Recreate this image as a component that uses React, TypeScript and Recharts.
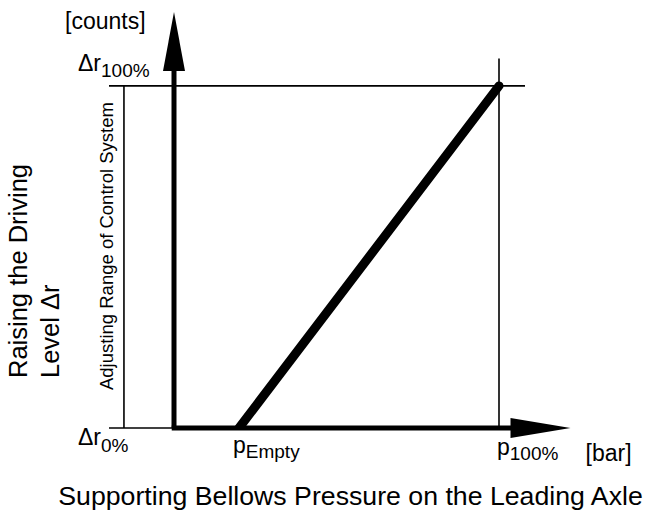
import { ComposedChart, Line, XAxis, YAxis, ReferenceLine, ReferenceDot } from 'recharts'

// characteristic: supporting bellows pressure (% of p100) -> raising of driving level (% of Δr100)
const pressure = [20, 100]
const level = [0, 100]

const xTickMain = ['p', 'p']
const xTickSub = ['Empty', '100%']
const yTickMain = ['Δr', 'Δr']
const yTickSub = ['0%', '100%']

const xUnit = '[bar]'
const yUnit = '[counts]'
const xTitle = 'Supporting Bellows Pressure on the Leading Axle'
const yTitle = ['Raising the Driving', 'Level Δr']
const rangeNote = 'Adjusting Range of Control System'

const xMin = -20
const xMax = 122
const yMax = 121.6
const rangeX = -15.4 // thin bracket line on the left
const overshoot = 108 // helper lines run a bit past 100%

const data = pressure.map((p, i) => ({ p, r: level[i] }))

const FONT = '"Liberation Sans", Arial, sans-serif'
const INK = '#000'

type DotProps = { cx?: number; cy?: number }

// text label placed relative to a data anchor
const note = (render: (x: number, y: number) => JSX.Element) => (p: DotProps) =>
  render(p.cx ?? 0, p.cy ?? 0)

const subLabel = (main: string, sub: string, dx: number, dy: number, subDy: number) =>
  note((x, y) => (
    <text x={x + dx} y={y + dy} fill={INK} fontFamily={FONT} fontSize={23}>
      <tspan>{main}</tspan>
      <tspan fontSize={19} dy={subDy}>{sub}</tspan>
    </text>
  ))

export default function App() {
  const thin = { stroke: INK, strokeWidth: 1.6, ifOverflow: 'visible' as const }
  const thick = { stroke: INK, strokeWidth: 5, ifOverflow: 'visible' as const }

  return (
    <div style={{ position: 'absolute', left: 0, top: 0, width: 645, height: 511, background: '#fff' }}>
      <ComposedChart width={645} height={511} data={data}
        margin={{ top: 12, right: 74.5, bottom: 83, left: 109 }}>
        <XAxis dataKey="p" type="number" domain={[xMin, xMax]} allowDataOverflow hide />
        <YAxis type="number" domain={[0, yMax]} allowDataOverflow hide />

        {/* helper lines */}
        <ReferenceLine segment={[{ x: xMin, y: 100 }, { x: overshoot, y: 100 }]} {...thin} />
        <ReferenceLine segment={[{ x: xMin, y: 0 }, { x: 0, y: 0 }]} {...thin} />
        <ReferenceLine segment={[{ x: rangeX, y: 0 }, { x: rangeX, y: 100 }]} {...thin} />
        <ReferenceLine segment={[{ x: 100, y: 0 }, { x: 100, y: overshoot }]} {...thin} />

        <Line dataKey="r" stroke={INK} strokeWidth={9} strokeLinecap="round" dot={false}
          isAnimationActive={false} />

        {/* axes with arrows */}
        <ReferenceLine segment={[{ x: 0, y: 0 }, { x: 0, y: 110 }]} {...thick} />
        <ReferenceLine segment={[{ x: -0.7, y: 0 }, { x: 110, y: 0 }]} {...thick} />
        <ReferenceDot x={0} y={yMax} ifOverflow="visible"
          shape={note((x, y) => <polygon points={`${x},${y} ${x - 11},${y + 59} ${x + 11},${y + 59}`} fill={INK} />)} />
        <ReferenceDot x={xMax} y={0} ifOverflow="visible"
          shape={note((x, y) => <polygon points={`${x},${y} ${x - 60},${y - 10} ${x - 60},${y + 10}`} fill={INK} />)} />

        {/* tick labels */}
        <ReferenceDot x={xMin} y={level[1]} ifOverflow="visible" shape={subLabel(yTickMain[1], yTickSub[1], -31, -15, 6)} />
        <ReferenceDot x={xMin} y={level[0]} ifOverflow="visible" shape={subLabel(yTickMain[0], yTickSub[0], -31, 17, 7)} />
        <ReferenceDot x={pressure[0]} y={0} ifOverflow="visible" shape={subLabel(xTickMain[0], xTickSub[0], -6, 25, 5)} />
        <ReferenceDot x={pressure[1]} y={0} ifOverflow="visible" shape={subLabel(xTickMain[1], xTickSub[1], -2, 27, 5)} />

        {/* units */}
        <ReferenceDot x={0} y={yMax} ifOverflow="visible"
          shape={note((x, y) => <text x={x - 109} y={y + 17} fill={INK} fontFamily={FONT} fontSize={23}>{yUnit}</text>)} />
        <ReferenceDot x={xMax} y={0} ifOverflow="visible"
          shape={note((x, y) => <text x={x + 15} y={y + 33} fill={INK} fontFamily={FONT} fontSize={23}>{xUnit}</text>)} />

        {/* titles */}
        <ReferenceDot x={0} y={0} ifOverflow="visible"
          shape={note((x, y) => (
            <g fill={INK} fontFamily={FONT}>
              <text x={x + 176.5} y={y + 77} textAnchor="middle" fontSize={26.7}>{xTitle}</text>
              {yTitle.map((t, i) => (
                <text key={t} x={x - 147 + i * 32} y={y - 50} fontSize={25.5}
                  transform={`rotate(-90, ${x - 147 + i * 32}, ${y - 50})`}>{t}</text>
              ))}
            </g>
          ))} />
        <ReferenceDot x={rangeX} y={0} ifOverflow="visible"
          shape={note((x, y) => (
            <text x={x - 11} y={y - 38} transform={`rotate(-90, ${x - 11}, ${y - 38})`}
              fill={INK} fontFamily={FONT} fontSize={18.5}>{rangeNote}</text>
          ))} />
      </ComposedChart>
    </div>
  )
}
